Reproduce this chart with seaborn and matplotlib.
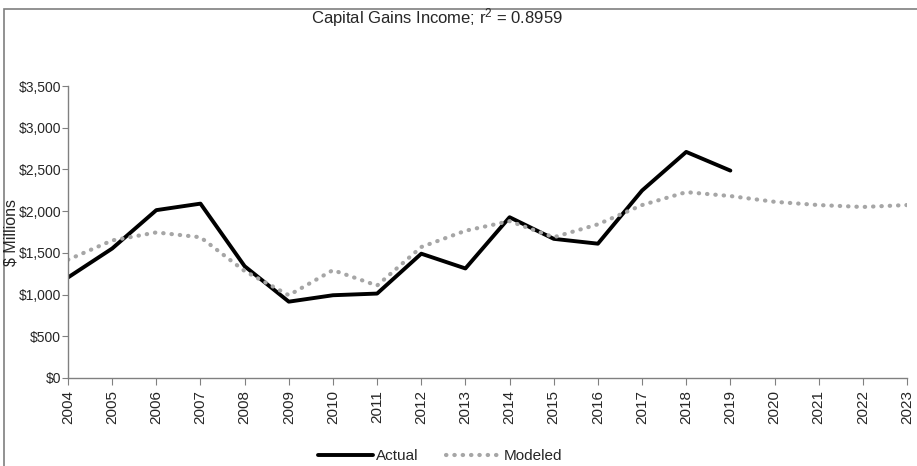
import numpy as np
import pandas as pd
import matplotlib
matplotlib.use("Agg")
import matplotlib.pyplot as plt
import matplotlib.ticker as mticker
from matplotlib.patches import Rectangle
import seaborn as sns

years = list(range(2004, 2024))
actual = [1205, 1552, 2012, 2090, 1340, 915, 992, 1012, 1490, 1313,
          1927, 1668, 1610, 2247, 2710, 2486,
          np.nan, np.nan, np.nan, np.nan]
modeled = [1417, 1649, 1745, 1687, 1282, 992, 1293, 1108, 1570, 1765,
           1880, 1687, 1842, 2073, 2228, 2181, 2112, 2073, 2050, 2073]

df = pd.DataFrame({"year": years, "Actual": actual, "Modeled": modeled})

sns.set_style("white")
plt.rcParams["font.family"] = ["Liberation Sans", "DejaVu Sans"]
plt.rcParams["mathtext.default"] = "regular"

fig = plt.figure(figsize=(9.17, 4.66), dpi=100)
ax = fig.add_axes([68 / 917, 1 - 378 / 466, (907 - 68) / 917, (378 - 86) / 466])

# outer chart border (cut at right/bottom like the original)
fig.patches.append(Rectangle((4 / 917, -0.1), 1.2, 1.1 - 9 / 466,
                             transform=fig.transFigure, fill=False,
                             edgecolor="#7f7f7f", linewidth=1.2))

sns.lineplot(data=df, x="year", y="Actual", ax=ax, color="black",
             linewidth=2.8, label="Actual")
sns.lineplot(data=df, x="year", y="Modeled", ax=ax, color="#A6A6A6",
             linewidth=3, linestyle=(0, (0.1, 1.9)), dash_capstyle="round",
             label="Modeled")

ax.set_xlim(2004, 2023)
ax.set_ylim(0, 3500)
ax.set_xticks(years)
ax.set_xticklabels([str(y) for y in years], rotation=90, fontsize=11)
ax.yaxis.set_major_locator(mticker.MultipleLocator(500))
ax.yaxis.set_major_formatter(mticker.FuncFormatter(lambda v, p: f"${v:,.0f}"))
ax.tick_params(axis="y", labelsize=10, length=4, direction="out", left=True,
               color="#808080", pad=1)
ax.tick_params(axis="x", length=5, direction="out", bottom=True, color="#808080")

for s in ["top", "right"]:
    ax.spines[s].set_visible(False)
for s in ["left", "bottom"]:
    ax.spines[s].set_color("#808080")
    ax.spines[s].set_linewidth(1)

ax.set_xlabel("")
ax.set_ylabel("")
fig.text(11 / 917, 1 - 232 / 466, "$ Millions", rotation=90, ha="center",
         va="center", fontsize=11.5)

fig.text(437 / 917, 1 - 18 / 466, "Capital Gains Income; r$^2$ = 0.8959",
         ha="center", va="center", fontsize=12)

ax.legend(loc="center", ncol=2, frameon=False, fontsize=11,
          handlelength=3.6, columnspacing=1.8, handletextpad=0.2)
ax.legend_.set_bbox_to_anchor((440 / 917, 1 - 456 / 466), transform=fig.transFigure)

fig.savefig("out.png", dpi=100)
